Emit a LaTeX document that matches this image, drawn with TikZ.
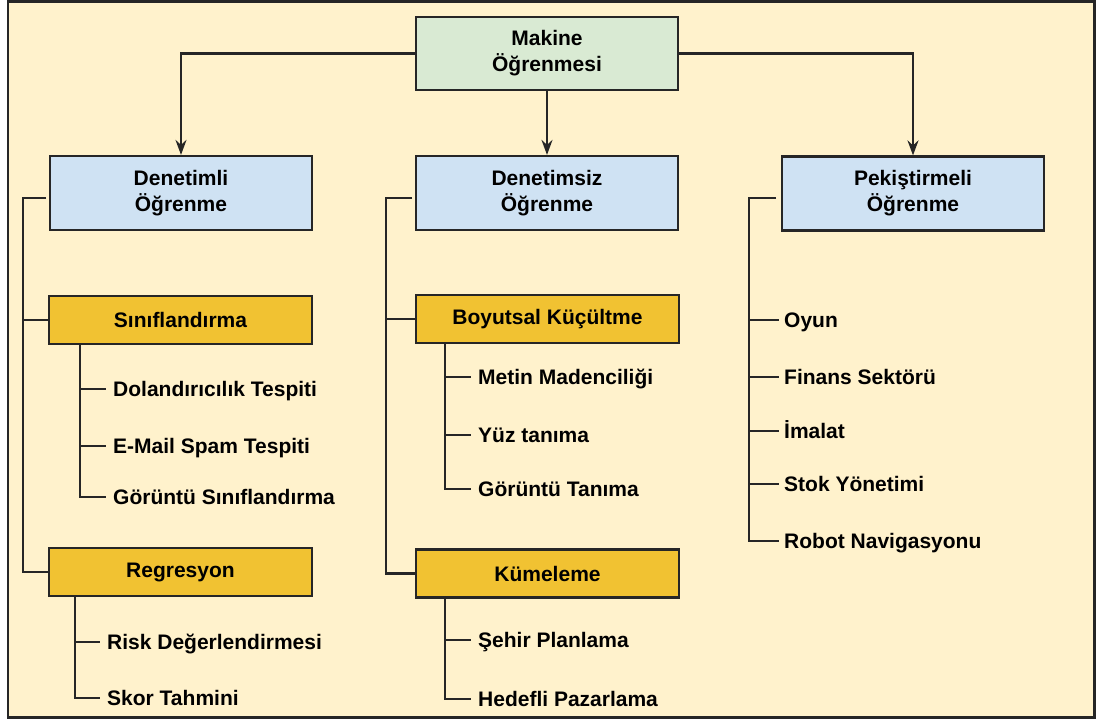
\documentclass[tikz,border=0pt]{standalone}
\usepackage{fontspec}
\setmainfont{Liberation Sans}
\usetikzlibrary{arrows.meta}

\definecolor{pagebg}{HTML}{FFF2CC}
\definecolor{rootfill}{HTML}{D9EAD3}
\definecolor{typefill}{HTML}{CFE2F3}
\definecolor{taskfill}{HTML}{F1C232}
\definecolor{edge}{HTML}{262626}

\tikzset{
  box/.style={draw=edge, line width=2.2pt, align=center, inner sep=0pt,
    minimum width=262pt, font=\fontsize{21}{26}\selectfont\bfseries},
  rootbox/.style={box, fill=rootfill, minimum height=73pt},
  typebox/.style={box, fill=typefill, minimum height=74pt},
  taskbox/.style={box, fill=taskfill, minimum height=48pt, minimum width=263pt},
  item/.style={anchor=west, inner xsep=7pt, inner ysep=0pt, text height=15pt,
    text depth=0pt, font=\fontsize{21}{25}\selectfont\bfseries},
  itemr/.style={item, inner xsep=5pt},
  link/.style={draw=edge, line width=2.2pt},
  arrow/.style={link, -{Stealth[length=15pt, width=11pt, inset=5pt]}},
}

\begin{document}
\begin{tikzpicture}[x=1pt, y=-1pt]
\useasboundingbox (0,0) rectangle (1096,722);
\fill[white] (0,0) rectangle (1096,722);
\draw[draw=edge, line width=2.6pt, fill=pagebg] (8,1.5) rectangle (1094.5,717.5);

% top level
\node[rootbox] (ml) at (547,53.5) {Makine\\Öğrenmesi};

% learning types
\node[typebox] (den) at (181,193) {Denetimli\\Öğrenme};
\node[typebox] (dsz) at (547,193) {Denetimsiz\\Öğrenme};
\node[typebox] (pek) at (913,193.5) {Pekiştirmeli\\Öğrenme};

\draw[arrow] (ml.west) -| (den.north);
\draw[arrow] (ml.south) -- (dsz.north);
\draw[arrow] (ml.east) -| (pek.north);

% task boxes
\node[taskbox] (sin) at (180.5,320) {Sınıflandırma};
\node[taskbox] (reg) at (180.5,572) {Regresyon};
\node[taskbox] (boy) at (547.5,319) {Boyutsal Küçültme};
\node[taskbox] (kum) at (547.5,573.5) {Kümeleme};

% supervised bracket
\coordinate (denend) at (46,198);
\coordinate (dentop) at (23,198);
\draw[link] (denend) -- (dentop) |- (reg.west);
\draw[link] (dentop |- sin.west) -- (sin.west);

% unsupervised bracket
\coordinate (dszend) at (412,198);
\coordinate (dsztop) at (386,198);
\draw[link] (dszend) -- (dsztop) |- (kum.west);
\draw[link] (dsztop |- boy.west) -- (boy.west);

% reinforcement bracket
\coordinate (pekend) at (776,198);
\coordinate (pektop) at (749,198);

% classification examples
\node[item] (c1) at (106,389) {Dolandırıcılık Tespiti};
\node[item] (c2) at (106,446) {E-Mail Spam Tespiti};
\node[item] (c3) at (106,497) {Görüntü Sınıflandırma};
\coordinate (sintr) at (80,344);
\draw[link] (sintr) |- (c3.west);
\draw[link] (sintr |- c1.west) -- (c1.west);
\draw[link] (sintr |- c2.west) -- (c2.west);

% regression examples
\node[item] (r1) at (100,642) {Risk Değerlendirmesi};
\node[item] (r2) at (100,698) {Skor Tahmini};
\coordinate (regtr) at (75,596);
\draw[link] (regtr) |- (r2.west);
\draw[link] (regtr |- r1.west) -- (r1.west);

% dimensionality reduction examples
\node[item] (b1) at (471,377) {Metin Madenciliği};
\node[item] (b2) at (471,435) {Yüz tanıma};
\node[item] (b3) at (471,489) {Görüntü Tanıma};
\coordinate (boytr) at (445,343);
\draw[link] (boytr) |- (b3.west);
\draw[link] (boytr |- b1.west) -- (b1.west);
\draw[link] (boytr |- b2.west) -- (b2.west);

% clustering examples
\node[item] (k1) at (471,640) {Şehir Planlama};
\node[item] (k2) at (471,699) {Hedefli Pazarlama};
\coordinate (kumtr) at (445,598);
\draw[link] (kumtr) |- (k2.west);
\draw[link] (kumtr |- k1.west) -- (k1.west);

% reinforcement examples
\node[itemr] (p1) at (779,320) {Oyun};
\node[itemr] (p2) at (779,377) {Finans Sektörü};
\node[itemr] (p3) at (779,431) {İmalat};
\node[itemr] (p4) at (779,484) {Stok Yönetimi};
\node[itemr] (p5) at (779,541) {Robot Navigasyonu};
\draw[link] (pekend) -- (pektop) |- (p5.west);
\foreach \n in {p1,p2,p3,p4}
  \draw[link] (pektop |- \n.west) -- (\n.west);
\end{tikzpicture}
\end{document}
